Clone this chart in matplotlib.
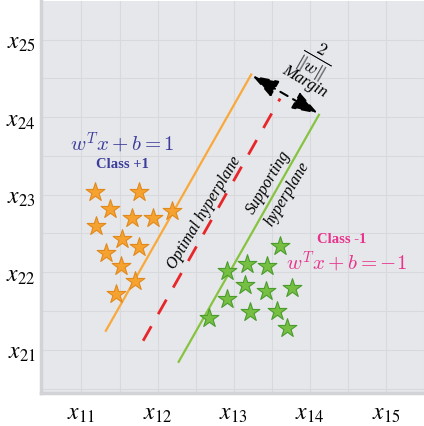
import matplotlib.pyplot as plt

# class +1 (orange) and class -1 (green) samples
pos_x = [1.18, 1.75, 1.37, 1.66, 1.94, 2.19, 1.19, 1.53, 1.76, 1.32, 1.52, 1.70, 1.46]
pos_y = [3.04, 3.03, 2.81, 2.70, 2.70, 2.79, 2.60, 2.43, 2.32, 2.25, 2.08, 1.89, 1.72]
neg_x = [3.61, 2.91, 3.17, 3.44, 3.15, 3.43, 3.76, 2.91, 3.22, 3.57, 3.70, 2.68]
neg_y = [2.34, 2.01, 2.10, 2.08, 1.83, 1.76, 1.79, 1.66, 1.49, 1.50, 1.28, 1.41]

# hyperplane end points
upper_x = [1.32, 3.23]
upper_y = [1.245, 4.55]
optimal_x = [1.81, 3.61]
optimal_y = [1.116, 4.24]
lower_x = [2.277, 4.12]
lower_y = [0.845, 4.03]
margin_start = (3.245, 4.535)
margin_end = (4.11, 4.045)

xticks = [1, 2, 3, 4, 5]
yticks = [1, 2, 3, 4, 5]
xlabels = ['$x_{11}$', '$x_{12}$', '$x_{13}$', '$x_{14}$', '$x_{15}$']
ylabels = ['$x_{21}$', '$x_{22}$', '$x_{23}$', '$x_{24}$', '$x_{25}$']

blue = '#3c3c9c'
pink = '#e8328c'

fig = plt.figure(figsize=(4.24, 4.26), dpi=100)
ax = fig.add_axes([0.097, 0.078, 0.903, 0.92])
ax.set_facecolor('#e6e7ea')
ax.set_xlim(0.47, 5.42)
ax.set_ylim(0.445, 5.5)

ax.set_xticks(xticks)
ax.set_yticks(yticks)
ax.set_xticklabels(xlabels)
ax.set_yticklabels(ylabels)
ax.set_xticks([x + 0.5 for x in xticks], minor=True)
ax.set_yticks([y + 0.5 for y in yticks[:-1]] + [0.5], minor=True)
ax.tick_params(which='both', length=0)
ax.tick_params(axis='x', pad=6)
ax.tick_params(axis='y', pad=4)
for lab in ax.get_xticklabels() + ax.get_yticklabels():
    lab.set_fontsize(17)
    lab.set_math_fontfamily('stix')
ax.grid(True, which='both', color='#d8d9dc', lw=0.8)
ax.set_axisbelow(True)
for s in ['top', 'right']:
    ax.spines[s].set_visible(False)
for s in ['left', 'bottom']:
    ax.spines[s].set_color('#d2d3d6')
    ax.spines[s].set_linewidth(2.5)

ax.plot(upper_x, upper_y, color='#f9a93b', lw=1.6)
ax.plot(optimal_x, optimal_y, color='#e8262a', lw=2, dashes=(6, 5))
ax.plot(lower_x, lower_y, color='#86c440', lw=1.6)

ax.scatter(pos_x, pos_y, marker='*', s=200, color='#f6a230', edgecolor='#e08a1e', lw=0.8, zorder=3)
ax.scatter(neg_x, neg_y, marker='*', s=200, color='#76bf43', edgecolor='#4a9c2d', lw=0.8, zorder=3)

ax.annotate('', xy=margin_end, xytext=margin_start,
            arrowprops=dict(arrowstyle='<|-|>,head_length=1.6,head_width=0.55',
                            color='black', lw=1.5, ls=(0, (4, 3)),
                            shrinkA=0, shrinkB=0))

ax.text(3.93, 4.46, 'Margin', rotation=-30, ha='center', va='center',
        family='Liberation Serif', style='italic', fontsize=12)
ax.text(4.07, 4.74, r'$\frac{2}{\|w\|}$', rotation=-30, ha='center', va='center',
        fontsize=18, math_fontfamily='cm')

ax.text(2.61, 2.77, 'Optimal hyperplane', rotation=59, ha='center', va='center',
        family='Liberation Serif', style='italic', fontsize=11.5)
ax.text(3.58, 3.09, 'Supporting\nhyperplane', rotation=59, ha='center', va='center',
        family='Liberation Serif', style='italic', fontsize=11.5, linespacing=1.55)

ax.text(1.54, 3.67, r'$w^Tx+b=1$', color=blue, ha='center', va='center',
        fontsize=15, math_fontfamily='cm')
ax.text(1.54, 3.39, 'Class +1', color=blue, ha='center', va='center',
        family='Liberation Serif', weight='bold', fontsize=10.5)
ax.text(4.42, 2.42, 'Class -1', color=pink, ha='center', va='center',
        family='Liberation Serif', weight='bold', fontsize=10.5)
ax.text(4.48, 2.135, r'$w^Tx+b=-1$', color=pink, ha='center', va='center',
        fontsize=15, math_fontfamily='cm')

fig.savefig('out.png', dpi=100)
